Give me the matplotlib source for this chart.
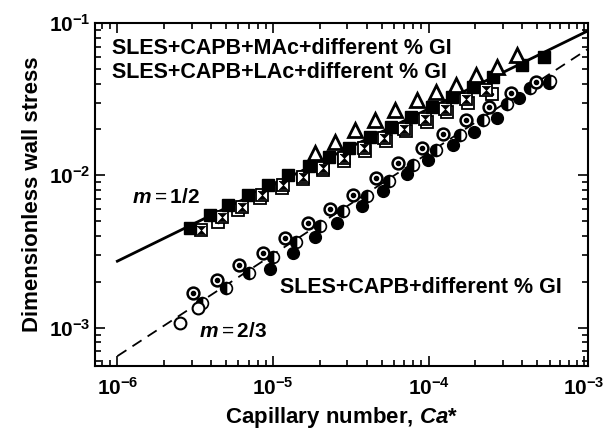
import numpy as np
import matplotlib
matplotlib.use('Agg')
from matplotlib import pyplot as plt
from matplotlib.ticker import LogLocator, FuncFormatter, NullFormatter

plt.rcParams['font.family'] = ['Liberation Sans', 'DejaVu Sans']
plt.rcParams['mathtext.fontset'] = 'custom'
plt.rcParams['mathtext.rm'] = 'Liberation Sans'
plt.rcParams['mathtext.bf'] = 'Liberation Sans:bold'
plt.rcParams['mathtext.it'] = 'Liberation Sans:italic'
plt.rcParams['mathtext.bfit'] = 'Liberation Sans:italic:bold'

# upper group: SLES+CAPB+MAc / LAc + GI
sq_filled_x = [2.94e-6, 3.95e-6, 5.15e-6, 6.92e-6, 9.29e-6, 1.25e-5, 1.7e-5, 2.3e-5, 3.1e-5, 4.2e-5,
               5.7e-5, 7.7e-5, 1.05e-4, 1.42e-4, 1.92e-4, 2.6e-4, 4.0e-4, 5.5e-4]
sq_filled_y = [4.48e-3, 5.46e-3, 6.35e-3, 7.39e-3, 8.59e-3, 1.0e-2, 1.15e-2, 1.32e-2, 1.52e-2, 1.78e-2,
               2.08e-2, 2.42e-2, 2.8e-2, 3.25e-2, 3.8e-2, 4.4e-2, 5.3e-2, 6.0e-2]
sq_bow_x = [3.45e-6, 4.71e-6, 6.33e-6, 8.49e-6, 1.16e-5, 1.55e-5, 2.1e-5, 2.85e-5, 3.85e-5, 5.2e-5,
            7.0e-5, 9.5e-5, 1.28e-4, 1.75e-4, 2.35e-4]
sq_bow_y = [4.35e-3, 5.30e-3, 6.15e-3, 7.38e-3, 8.59e-3, 9.7e-3, 1.12e-2, 1.3e-2, 1.5e-2, 1.75e-2,
            2.02e-2, 2.35e-2, 2.72e-2, 3.15e-2, 3.65e-2]
sq_dot_x = [4.44e-6, 5.97e-6, 8.26e-6, 1.14e-5, 1.55e-5, 2.1e-5, 2.85e-5, 3.9e-5, 5.3e-5, 7.2e-5,
            9.8e-5, 1.32e-4, 1.8e-4, 2.57e-4]
sq_dot_y = [4.91e-3, 5.89e-3, 7.06e-3, 8.2e-3, 9.4e-3, 1.08e-2, 1.25e-2, 1.45e-2, 1.68e-2, 1.95e-2,
            2.25e-2, 2.6e-2, 3.0e-2, 3.4e-2]
tri_x = [1.86e-5, 2.5e-5, 3.36e-5, 4.51e-5, 6.05e-5, 8.37e-5, 1.12e-4, 1.51e-4, 2.03e-4, 2.77e-4, 3.72e-4]
tri_y = [1.40e-2, 1.65e-2, 1.98e-2, 2.30e-2, 2.68e-2, 3.11e-2, 3.52e-2, 3.91e-2, 4.55e-2, 5.14e-2, 6.17e-2]

# lower group: SLES+CAPB + GI
c_dot_x = [3.07e-6, 4.38e-6, 6.05e-6, 8.63e-6, 1.19e-5, 1.67e-5, 2.32e-5, 3.26e-5, 4.57e-5, 6.32e-5,
           9.02e-5, 1.23e-4, 1.75e-4, 2.46e-4, 3.40e-4, 4.92e-4]
c_dot_y = [1.70e-3, 2.04e-3, 2.56e-3, 3.11e-3, 3.85e-3, 4.83e-3, 5.97e-3, 7.38e-3, 9.55e-3, 1.20e-2,
           1.51e-2, 1.86e-2, 2.30e-2, 2.80e-2, 3.46e-2, 4.09e-2]
c_fill_x = [9.6e-6, 1.34e-5, 1.86e-5, 2.57e-5, 3.72e-5, 5.07e-5, 7.23e-5, 9.86e-5, 1.43e-4, 1.97e-4,
            2.77e-4, 3.83e-4, 5.97e-4]
c_fill_y = [2.41e-3, 3.07e-3, 3.91e-3, 4.83e-3, 6.25e-3, 7.85e-3, 1.02e-2, 1.26e-2, 1.57e-2, 1.92e-2,
            2.37e-2, 3.21e-2, 4.03e-2]
c_half_x = [3.5e-6, 5.0e-6, 7.0e-6, 1.0e-5, 1.4e-5, 2.0e-5, 2.8e-5, 4.0e-5, 5.6e-5, 8.0e-5,
            1.12e-4, 1.6e-4, 2.25e-4, 3.2e-4, 4.5e-4, 6.0e-4]
c_half_y = [1.45e-3, 1.82e-3, 2.3e-3, 2.9e-3, 3.65e-3, 4.65e-3, 5.8e-3, 7.3e-3, 9.2e-3, 1.17e-2,
            1.46e-2, 1.85e-2, 2.32e-2, 2.95e-2, 3.75e-2, 4.15e-2]
c_open_x = [2.53e-6, 3.3e-6]
c_open_y = [1.08e-3, 1.35e-3]

# power-law guide lines
line_x = [1e-6, 1.06e-3]
slope_half, pref_half = 1 / 2, 2.73e-3
slope_two3, pref_two3 = 2 / 3, 6.5e-4

hourglass = [(-1, 1), (1, 1), (-1, -1), (1, -1), (-1, 1)]

fig = plt.figure(figsize=(6.06, 4.37), dpi=100)
ax = fig.add_axes([0.157, 0.1625, 0.8135, 0.785])
ax.set_xscale('log')
ax.set_yscale('log')

lx = np.array(line_x)
ax.plot(lx, pref_half * (lx / 1e-6) ** slope_half, 'k-', lw=2)
ax.plot(lx, pref_two3 * (lx / 1e-6) ** slope_two3, 'k--', lw=1.3, dashes=(6, 4))

ms = 8
# upper group
ax.plot(sq_dot_x, sq_dot_y, 's', ms=ms, mfc='white', mec='black', mew=1.3, ls='none')
ax.plot(sq_dot_x, sq_dot_y, '.', ms=3, color='black', ls='none')
ax.plot(sq_bow_x, sq_bow_y, 's', ms=ms, mfc='white', mec='black', mew=1.3, ls='none')
ax.plot(sq_bow_x, sq_bow_y, marker=hourglass, ms=6, mfc='black', mec='black', mew=0.5, ls='none')
ax.plot(sq_filled_x, sq_filled_y, 's', ms=ms, mfc='black', mec='black', ls='none')
ax.plot(tri_x, tri_y, '^', ms=10, mfc='white', mec='black', mew=2, ls='none')

# lower group
ax.plot(c_fill_x, c_fill_y, 'o', ms=8.5, mfc='black', mec='black', ls='none')
ax.plot(c_half_x, c_half_y, 'o', ms=8.5, fillstyle='left', mfc='black', mfcalt='white',
        mec='black', mew=1.2, ls='none')
ax.plot(c_open_x, c_open_y, 'o', ms=8.5, mfc='white', mec='black', mew=1.5, ls='none')
ax.plot(c_dot_x, c_dot_y, 'o', ms=8.5, mfc='white', mec='black', mew=1.8, ls='none')
ax.plot(c_dot_x, c_dot_y, 'o', ms=3, color='black', ls='none')

ax.set_xlim(7.2e-7, 1.06e-3)
ax.set_ylim(5.6e-4, 1e-1)

fmt = FuncFormatter(lambda v, p: r'$\mathbf{10^{%d}}$' % round(np.log10(v)))
for axis in (ax.xaxis, ax.yaxis):
    axis.set_major_locator(LogLocator(base=10, numticks=10))
    axis.set_minor_locator(LogLocator(base=10, subs=np.arange(2, 10), numticks=20))
    axis.set_major_formatter(fmt)
    axis.set_minor_formatter(NullFormatter())
ax.tick_params(which='both', direction='in', top=True, right=True, labelsize=15, width=1.2)
ax.tick_params(which='major', length=7)
ax.tick_params(which='minor', length=4)
ax.tick_params(axis='x', pad=8)
for s in ax.spines.values():
    s.set_linewidth(1.5)

ax.set_xlabel(r'Capillary number, $\mathbfit{Ca}$*', fontsize=16, fontweight='bold', labelpad=4)
ax.set_ylabel('Dimensionless wall stress', fontsize=16, fontweight='bold', labelpad=4)

ax.text(0.035, 0.925, 'SLES+CAPB+MAc+different % GI', transform=ax.transAxes,
        fontsize=15.5, fontweight='bold', va='center')
ax.text(0.035, 0.855, 'SLES+CAPB+LAc+different % GI', transform=ax.transAxes,
        fontsize=15.5, fontweight='bold', va='center')
ax.text(0.375, 0.23, 'SLES+CAPB+different % GI', transform=ax.transAxes,
        fontsize=15.5, fontweight='bold', va='center')
ax.text(0.075, 0.49, r'$\mathbfit{m}=\mathbf{1/2}$', transform=ax.transAxes, fontsize=15, va='center')
ax.text(0.21, 0.1, r'$\mathbfit{m}=\mathbf{2/3}$', transform=ax.transAxes, fontsize=15, va='center')

fig.savefig('out.png', dpi=100)
